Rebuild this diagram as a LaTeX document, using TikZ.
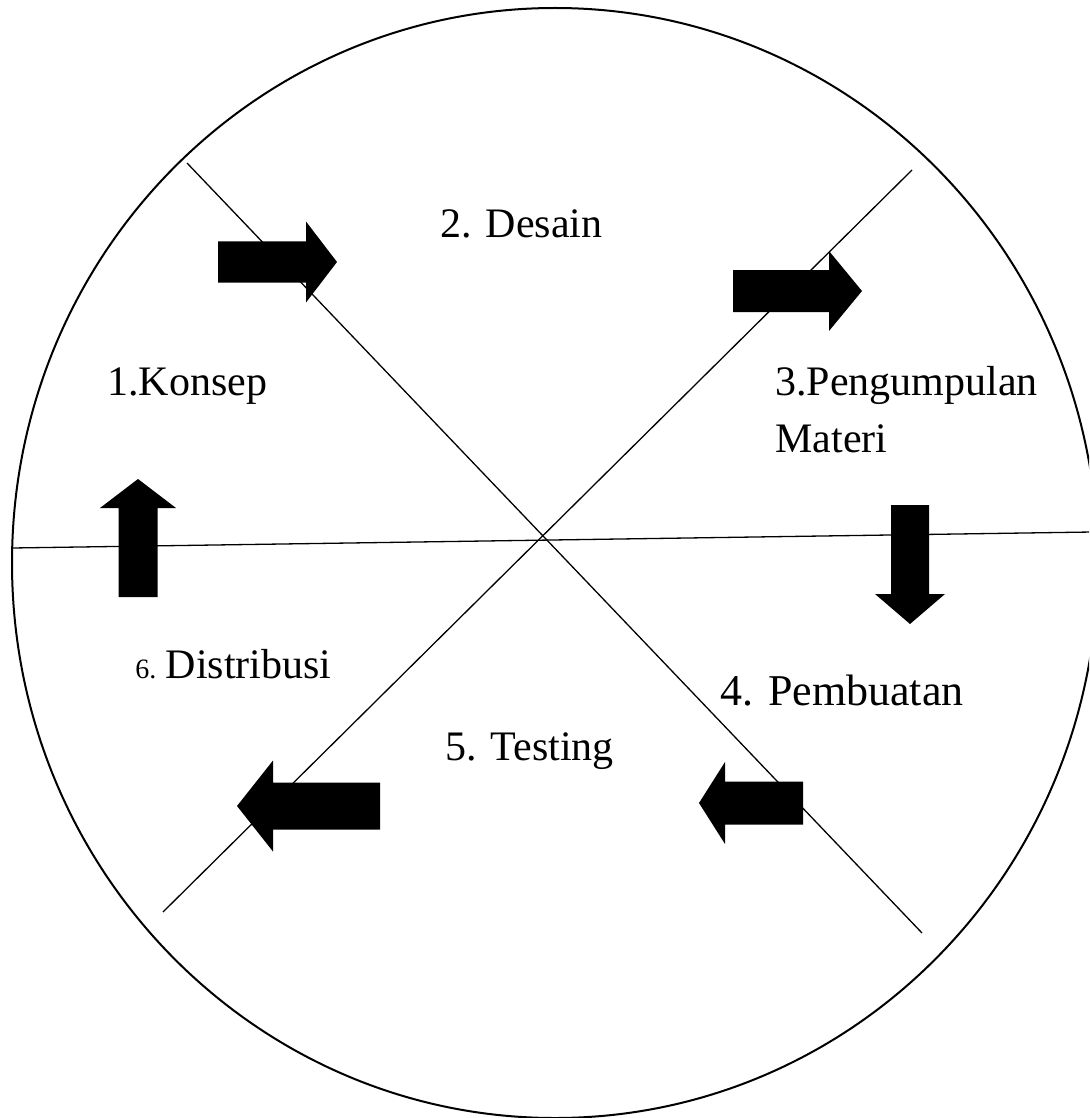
\documentclass[tikz,border=0pt]{standalone}
\usepackage{fontspec}
\setmainfont{Liberation Serif}

\tikzset{
  stagetext/.style={anchor=base west, inner sep=0pt, font=\fontsize{21}{25}\selectfont},
  divider/.style={line width=0.65pt},
  % block arrow: length / head length / body half width / head half width
  pics/blockarrow/.style args={#1/#2/#3/#4}{code={
    \fill (0,-#3) -- ({#1-#2},-#3) -- ({#1-#2},-#4) -- (#1,0)
      -- ({#1-#2},#4) -- ({#1-#2},#3) -- (0,#3) -- cycle;
  }}
}

\begin{document}
\begin{tikzpicture}[x=0.5pt, y=-0.5pt]
  \useasboundingbox (0,0) rectangle (1089,1118);
  \begin{scope}
  \clip (0,0) rectangle (1089,1118);

  % Outer ring
  \draw[line width=1pt] (555,563) ellipse [x radius=543, y radius=555];

  % Dividing lines
  \coordinate (hleft) at (12,548);
  \coordinate (hright) at (1092,532);
  \coordinate (dtl) at (187,163);
  \coordinate (dbr) at (922,933);
  \coordinate (dbl) at (163,912);
  \coordinate (dtr) at (912,170);
  \draw[divider] (hleft) -- (hright);
  \draw[divider] (dtl) -- (dbr);
  \draw[divider] (dbl) -- (dtr);
  \end{scope}

  % Stage labels
  \node[stagetext] (konsep) at (107,395) {1.Konsep};
  \node[stagetext] (desain) at (440,237) {2. Desain};
  \node[stagetext] (kumpul) at (775,395) {3.Pengumpulan};
  \node[stagetext] (materi) at (775,452) {Materi};
  \node[stagetext, font=\fontsize{22}{26}\selectfont] (buat) at (720,705) {4. Pembuatan};
  \node[stagetext] (testing) at (445,760) {5. Testing};
  \node[stagetext] (distribusi) at (135,678) {{\fontsize{14}{16}\selectfont 6. }Distribusi};

  % Flow arrows
  \pic at (218,262) {blockarrow=119/31/20.5/40.5};
  \pic at (733,291) {blockarrow=129/33/21/40};
  \pic[rotate=-90] at (910,505) {blockarrow=119/30/19/35};
  \pic[rotate=180] at (803,803) {blockarrow=104/26/21.5/41};
  \pic[rotate=180] at (380,806) {blockarrow=143/36/23.5/45.5};
  \pic[rotate=90] at (138,597) {blockarrow=118/29/19.5/38};
\end{tikzpicture}
\end{document}
